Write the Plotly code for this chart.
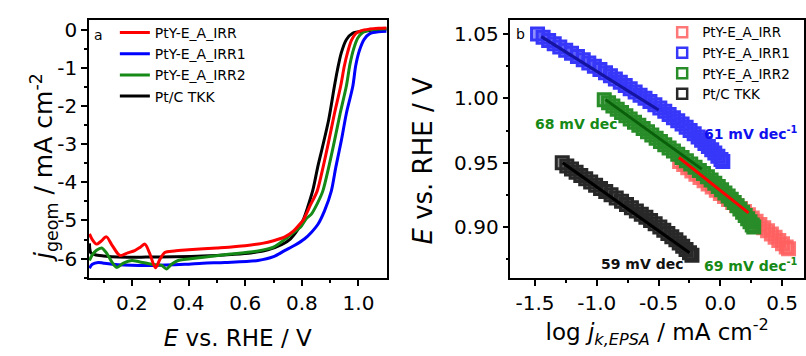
import plotly.graph_objects as go

# ---------------- Panel a : LSV curves ----------------
E_ptc = [0.05, 0.055, 0.07, 0.10, 0.15, 0.25, 0.35, 0.45, 0.55, 0.62, 0.68, 0.73, 0.76, 0.785,
         0.804, 0.822, 0.839, 0.856, 0.872, 0.895, 0.915, 0.926, 0.939, 0.957, 0.979, 1.027, 1.06, 1.10]
j_ptc = [-5.6, -5.85, -5.9, -5.93, -5.96, -5.96, -5.95, -5.93, -5.89, -5.85, -5.77, -5.63, -5.48, -5.25,
         -5.0, -4.62, -4.2, -3.6, -3.1, -2.35, -1.48, -1.04, -0.61, -0.26, -0.09, -0.03, 0.0, 0.02]

E_irr = [0.05, 0.06, 0.075, 0.09, 0.11, 0.13, 0.158, 0.185, 0.21, 0.23, 0.246, 0.262, 0.283, 0.30,
         0.316, 0.35, 0.40, 0.50, 0.60, 0.66, 0.70, 0.74, 0.77, 0.79, 0.804, 0.83, 0.854, 0.875,
         0.895, 0.915, 0.937, 0.95, 0.962, 0.975, 0.99, 1.01, 1.04, 1.07, 1.10]
j_irr = [-5.35, -5.5, -5.62, -5.55, -5.43, -5.65, -5.92, -5.85, -5.79, -5.7, -5.62, -5.85, -6.24, -6.0,
         -5.84, -5.8, -5.77, -5.72, -5.66, -5.6, -5.53, -5.43, -5.28, -5.12, -5.0, -4.6, -4.23, -3.6,
         -2.92, -2.2, -1.48, -0.95, -0.58, -0.28, -0.1, -0.02, 0.02, 0.04, 0.05]

E_irr1 = [0.05, 0.06, 0.081, 0.10, 0.15, 0.27, 0.387, 0.45, 0.528, 0.645, 0.70, 0.739, 0.775, 0.81,
          0.835, 0.857, 0.88, 0.904, 0.92, 0.939, 0.957, 0.98, 0.99, 1.003, 1.02, 1.04, 1.07, 1.10]
j_irr1 = [-6.25, -6.15, -6.1, -6.12, -6.16, -6.18, -6.15, -6.12, -6.1, -6.05, -5.95, -5.79, -5.65, -5.48,
          -5.3, -5.1, -4.75, -4.23, -3.6, -2.92, -2.2, -1.48, -0.95, -0.55, -0.25, -0.1, -0.05, -0.04]

E_irr2 = [0.05, 0.06, 0.075, 0.093, 0.11, 0.13, 0.146, 0.17, 0.199, 0.225, 0.27, 0.305, 0.322, 0.34,
          0.363, 0.446, 0.528, 0.645, 0.70, 0.739, 0.77, 0.798, 0.816, 0.833, 0.855, 0.874, 0.895,
          0.915, 0.935, 0.957, 0.97, 0.983, 0.997, 1.015, 1.04, 1.07, 1.10]
j_irr2 = [-6.05, -5.9, -5.78, -5.72, -5.85, -6.1, -6.23, -6.12, -6.05, -6.08, -6.15, -6.18, -6.27, -6.15,
          -6.05, -5.97, -5.9, -5.8, -5.7, -5.5, -5.32, -5.15, -4.95, -4.84, -4.55, -4.23, -3.6,
          -2.92, -2.2, -1.48, -0.9, -0.5, -0.22, -0.07, 0.0, 0.02, 0.03]

# ---------------- Panel b : Tafel data ----------------
logj_irr1 = [-1.480, -1.435, -1.390, -1.345, -1.300, -1.252, -1.205, -1.157, -1.110, -1.065, -1.020,
             -0.975, -0.930, -0.890, -0.850, -0.810, -0.770, -0.730, -0.690, -0.650, -0.610, -0.570,
             -0.530, -0.490, -0.450, -0.415, -0.380, -0.345, -0.310, -0.277, -0.245, -0.212, -0.180,
             -0.152, -0.125, -0.097, -0.070, -0.045, -0.020, 0.005, 0.020]
Et_irr1 = [1.0500, 1.0475, 1.0450, 1.0425, 1.0400, 1.0375, 1.0350, 1.0325, 1.0300, 1.0275, 1.0250,
           1.0225, 1.0200, 1.0175, 1.0150, 1.0125, 1.0100, 1.0075, 1.0050, 1.0025, 1.0000, 0.9975,
           0.9950, 0.9925, 0.9900, 0.9875, 0.9850, 0.9825, 0.9800, 0.9775, 0.9750, 0.9725, 0.9700,
           0.9675, 0.9650, 0.9625, 0.9600, 0.9575, 0.9550, 0.9525, 0.9510]

logj_irr2 = [-0.940, -0.905, -0.870, -0.835, -0.800, -0.765, -0.730, -0.695, -0.660, -0.625, -0.590,
             -0.555, -0.520, -0.485, -0.450, -0.415, -0.380, -0.345, -0.310, -0.275, -0.240, -0.205,
             -0.170, -0.137, -0.105, -0.075, -0.045, -0.017, 0.010, 0.037, 0.063, 0.088, 0.112,
             0.136, 0.158, 0.180, 0.201, 0.221, 0.240, 0.258, 0.270]
Et_irr2 = [0.9990, 0.9965, 0.9940, 0.9915, 0.9890, 0.9865, 0.9840, 0.9815, 0.9790, 0.9765, 0.9740,
           0.9715, 0.9690, 0.9665, 0.9640, 0.9615, 0.9590, 0.9565, 0.9540, 0.9515, 0.9490, 0.9465,
           0.9440, 0.9415, 0.9390, 0.9365, 0.9340, 0.9315, 0.9290, 0.9265, 0.9240, 0.9215, 0.9190,
           0.9165, 0.9140, 0.9115, 0.9090, 0.9065, 0.9040, 0.9015, 0.9000]

logj_irr = [-0.330, -0.297, -0.264, -0.231, -0.198, -0.165, -0.132, -0.099, -0.066, -0.033, 0.000,
            0.033, 0.066, 0.099, 0.131, 0.163, 0.195, 0.227, 0.258, 0.289, 0.320, 0.351, 0.382,
            0.413, 0.443, 0.473, 0.503, 0.533, 0.552]
Et_irr = [0.9510, 0.9485, 0.9460, 0.9435, 0.9410, 0.9385, 0.9360, 0.9335, 0.9310, 0.9285, 0.9260,
          0.9237, 0.9213, 0.9190, 0.9167, 0.9143, 0.9120, 0.9095, 0.9070, 0.9045, 0.9020, 0.8995,
          0.8970, 0.8945, 0.8920, 0.8895, 0.8870, 0.8845, 0.8830]

logj_ptc = [-1.280, -1.243, -1.205, -1.168, -1.130, -1.090, -1.050, -1.010, -0.970, -0.928, -0.885,
            -0.843, -0.800, -0.760, -0.720, -0.680, -0.640, -0.603, -0.565, -0.528, -0.490, -0.458,
            -0.425, -0.393, -0.360, -0.333, -0.305, -0.278, -0.250, -0.230]
Et_ptc = [0.9500, 0.9475, 0.9450, 0.9425, 0.9400, 0.9375, 0.9350, 0.9325, 0.9300, 0.9275, 0.9250,
          0.9225, 0.9200, 0.9175, 0.9150, 0.9125, 0.9100, 0.9075, 0.9050, 0.9025, 0.9000, 0.8975,
          0.8950, 0.8925, 0.8900, 0.8875, 0.8850, 0.8825, 0.8800, 0.8780]

# Tafel fit lines (end points)
fit_irr1_x, fit_irr1_y = [-1.45, -0.50], [1.048, 0.991]
fit_irr2_x, fit_irr2_y = [-0.93, -0.15], [0.999, 0.945]
fit_irr_x, fit_irr_y = [-0.336, 0.228], [0.954, 0.911]
fit_ptc_x, fit_ptc_y = [-1.277, -0.25], [0.950, 0.880]

names = ["PtY-E_A_IRR", "PtY-E_A_IRR1", "PtY-E_A_IRR2", "Pt/C TKK"]

# tick labels
xa_vals = [0.2, 0.4, 0.6, 0.8, 1.0]
xa_text = ["0.2", "0.4", "0.6", "0.8", "1.0"]
ya_vals = [0, -1, -2, -3, -4, -5, -6]
ya_text = ["0", "-1", "-2", "-3", "-4", "-5", "-6"]
xb_vals = [-1.5, -1.0, -0.5, 0.0, 0.5]
xb_text = ["-1.5", "-1.0", "-0.5", "0.0", "0.5"]
yb_vals = [0.90, 0.95, 1.00, 1.05]
yb_text = ["0.90", "0.95", "1.00", "1.05"]

FONT = "DejaVu Sans"
RED, BLUE, GREEN, BLACK = "#ff0000", "#0000ff", "#168a16", "#000000"

fig = go.Figure()

# panel a traces (drawing order: black, blue, green, red on top)
for E, j, col, nm, rank in [(E_ptc, j_ptc, BLACK, names[3], 4),
                             (E_irr1, j_irr1, BLUE, names[1], 2),
                             (E_irr2, j_irr2, GREEN, names[2], 3),
                             (E_irr, j_irr, RED, names[0], 1)]:
    fig.add_trace(go.Scatter(x=E, y=j, mode="lines", name=nm, legendrank=rank,
                             line=dict(color=col, width=3, shape="spline", smoothing=0.8),
                             xaxis="x", yaxis="y", legend="legend"))

# panel b markers (dense bands of square symbols)
mk = [(logj_irr, Et_irr, "rgba(255,95,95,0.85)", "rgba(255,95,95,0.45)", names[0], 1),
      (logj_irr2, Et_irr2, "rgb(40,140,40)", "rgba(40,140,40,0.55)", names[2], 3),
      (logj_irr1, Et_irr1, "rgb(55,55,250)", "rgba(55,55,250,0.55)", names[1], 2),
      (logj_ptc, Et_ptc, "rgb(40,40,40)", "rgba(40,40,40,0.55)", names[3], 4)]
for x, y, lc, fc, nm, rank in mk:
    fig.add_trace(go.Scatter(x=x, y=y, mode="markers", name=nm, showlegend=False,
                             marker=dict(symbol="square", size=12, color=fc,
                                         line=dict(color=lc, width=3)),
                             xaxis="x2", yaxis="y2"))

# panel b fit lines
for x, y, col in [(fit_irr1_x, fit_irr1_y, "#1414a0"),
                  (fit_irr2_x, fit_irr2_y, "#0a600a"),
                  (fit_ptc_x, fit_ptc_y, "#000000"),
                  (fit_irr_x, fit_irr_y, "#ff0000")]:
    fig.add_trace(go.Scatter(x=x, y=y, mode="lines", showlegend=False,
                             line=dict(color=col, width=3), xaxis="x2", yaxis="y2"))

# panel b legend entries (open squares, as in the reference key)
for (x, y, lc, fc, nm, rank) in mk:
    fig.add_trace(go.Scatter(x=[None], y=[None], mode="markers", name=nm, legendrank=rank,
                             marker=dict(symbol="square", size=10, color="rgba(255,255,255,0.6)",
                                         line=dict(color=lc, width=2.5)),
                             xaxis="x2", yaxis="y2", legend="legend2"))

axis_common = dict(showline=True, mirror=True, linecolor="black", linewidth=1.5,
                   showgrid=False, zeroline=False, ticks="outside", ticklen=6, tickwidth=1.5,
                   tickcolor="black", tickfont=dict(family=FONT, size=20, color="black"))

fig.update_layout(
    width=806, height=356, margin=dict(l=0, r=0, t=0, b=0),
    paper_bgcolor="white", plot_bgcolor="white",
    font=dict(family=FONT, color="black"),
    xaxis=dict(domain=[89/806, 387/806], range=[0.048, 1.099], tickmode="array",
               tickvals=xa_vals, ticktext=xa_text,
               minor=dict(tickvals=[0.1, 0.3, 0.5, 0.7, 0.9], ticks="outside", ticklen=3,
                          tickwidth=1.5, tickcolor="black"),
               title=dict(text="<i>E</i> vs. RHE / V", font=dict(family=FONT, size=23), standoff=16),
               anchor="y", **axis_common),
    yaxis=dict(domain=[1-278/356, 1-18/356], range=[-6.52, 0.26], tickmode="array",
               tickvals=ya_vals, ticktext=ya_text,
               minor=dict(tickvals=[-0.5, -1.5, -2.5, -3.5, -4.5, -5.5, -6.5], ticks="outside",
                          ticklen=3, tickwidth=1.5, tickcolor="black"),
               anchor="x", **axis_common),
    xaxis2=dict(domain=[511/806, 805/806], range=[-1.70, 0.677], tickmode="array",
                tickvals=xb_vals, ticktext=xb_text,
                minor=dict(tickvals=[-1.25, -0.75, -0.25, 0.25], ticks="outside", ticklen=3,
                           tickwidth=1.5, tickcolor="black"),
                title=dict(text="log <i>j</i><sub><i>k,EPSA</i></sub> / mA cm<sup>-2</sup>",
                           font=dict(family=FONT, size=23), standoff=9),
                anchor="y2", **axis_common),
    yaxis2=dict(domain=[1-278/356, 1-18/356], range=[0.860, 1.061], tickmode="array",
                tickvals=yb_vals, ticktext=yb_text,
                minor=dict(tickvals=[0.875, 0.925, 0.975, 1.025], ticks="outside", ticklen=3,
                           tickwidth=1.5, tickcolor="black"),
                anchor="x2", **axis_common),
    legend=dict(x=115/806, y=1-15/356, xanchor="left", yanchor="top", bgcolor="rgba(0,0,0,0)",
                font=dict(family=FONT, size=14), tracegroupgap=0, itemwidth=30),
    legend2=dict(x=663/806, y=1-15/356, xanchor="left", yanchor="top", bgcolor="rgba(0,0,0,0)",
                 font=dict(family=FONT, size=13.5), tracegroupgap=0, itemwidth=30),
)

ann = [
    dict(text="<i>j</i><sub>geom</sub> / mA cm<sup>-2</sup>", x=24/806, y=1-166/356,
         xref="paper", yref="paper", textangle=-90, showarrow=False,
         font=dict(family=FONT, size=25, color="black")),
    dict(text="<i>E</i> vs. RHE / V", x=424/806, y=1-160/356,
         xref="paper", yref="paper", textangle=-90, showarrow=False,
         font=dict(family=FONT, size=26, color="black")),
    dict(text="a", x=0.058, y=-0.13, xref="x", yref="y", xanchor="left", showarrow=False,
         font=dict(family=FONT, size=14, color="black")),
    dict(text="b", x=-1.668, y=1.050, xref="x2", yref="y2", xanchor="left", showarrow=False,
         font=dict(family=FONT, size=14, color="black")),
    dict(text="<b>68 mV dec</b>", x=-1.52, y=0.9797, xref="x2", yref="y2", xanchor="left",
         showarrow=False, font=dict(family=FONT, size=14, color=GREEN)),
    dict(text="<b>61 mV dec<sup>-1</sup></b>", x=-0.145, y=0.9727, xref="x2", yref="y2",
         xanchor="left", showarrow=False, font=dict(family=FONT, size=14, color="#1010ee")),
    dict(text="<b>59 mV dec</b>", x=-0.982, y=0.8715, xref="x2", yref="y2", xanchor="left",
         showarrow=False, font=dict(family=FONT, size=14, color="#111111")),
    dict(text="<b>69 mV dec<sup>-1</sup></b>", x=-0.145, y=0.8705, xref="x2", yref="y2",
         xanchor="left", showarrow=False, font=dict(family=FONT, size=14, color=GREEN)),
]
fig.update_layout(annotations=ann)

fig.write_html("out.html")
